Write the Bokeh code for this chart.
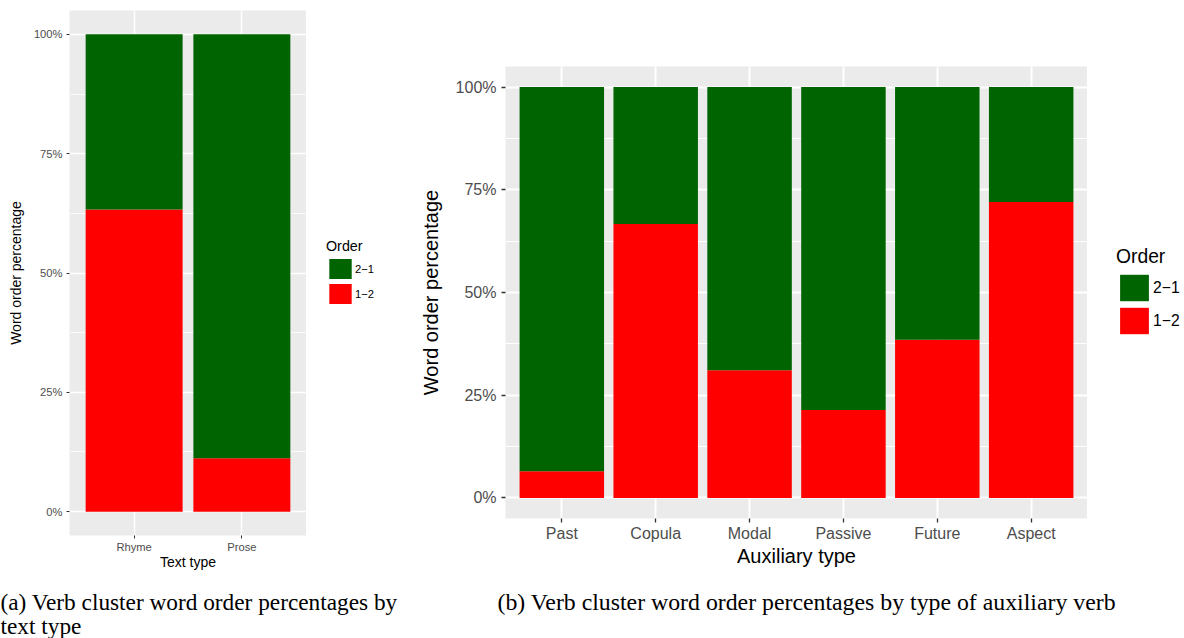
from bokeh.plotting import figure
from bokeh.models import (FactorRange, Range1d, FixedTicker, PrintfTickFormatter,
                          Legend, LegendItem, Label, ColumnDataSource)
from bokeh.layouts import row, column
from bokeh.embed import file_html
from bokeh.resources import INLINE

# ---------------- data ----------------
text_types = ["Rhyme", "Prose"]
text_order_12 = [63.3, 11.2]
text_order_21 = [36.7, 88.8]

aux_types = ["Past", "Copula", "Modal", "Passive", "Future", "Aspect"]
aux_order_12 = [6.5, 66.7, 31.1, 21.4, 38.5, 72.0]
aux_order_21 = [93.5, 33.3, 68.9, 78.6, 61.5, 28.0]

pct_ticks = [0, 25, 50, 75, 100]
pct_minor = [12.5, 37.5, 62.5, 87.5]
order_labels = ["2\u22121", "1\u22122"]
legend_title = "Order"
y_title = "Word order percentage"
x_title_a = "Text type"
x_title_b = "Auxiliary type"
caption_a = ["(a) Verb cluster word order percentages by", "text type"]
caption_b = "(b) Verb cluster word order percentages by type of auxiliary verb"

GREEN = "#006400"
RED = "#FF0000"
PANEL = "#EBEBEB"
SANS = "Liberation Sans"
SERIF = "Liberation Serif"
H = 580


def make_panel(cats, v12, v21, xtitle, s):
    src = ColumnDataSource(dict(cat=cats, v12=v12, v21=v21))
    p = figure(x_range=FactorRange(factors=cats, range_padding=0.1,
                                   range_padding_units="absolute"),
               y_range=Range1d(-5, 105),
               width=s["w"], height=H, sizing_mode="fixed",
               min_border_left=s["bl"], min_border_right=0,
               min_border_top=s["bt"], min_border_bottom=s["bb"],
               output_backend="svg", toolbar_location=None,
               background_fill_color=PANEL, border_fill_color="white",
               outline_line_color=None)
    p.vbar_stack(["v12", "v21"], x="cat", width=0.9, source=src,
                 fill_color=[RED, GREEN], line_color=None)

    p.yaxis.ticker = FixedTicker(ticks=pct_ticks, minor_ticks=pct_minor)
    p.yaxis.formatter = PrintfTickFormatter(format="%d%%")
    for ax in (p.xaxis[0], p.yaxis[0]):
        ax.axis_line_color = None
        ax.major_tick_line_color = "#333333"
        ax.major_tick_line_width = s["tw"]
        ax.major_tick_in = 0
        ax.major_tick_out = s["to"]
        ax.minor_tick_line_color = None
        ax.major_label_text_color = "#4D4D4D"
        ax.major_label_text_font = SANS
        ax.major_label_text_font_size = s["tick_fs"]
        ax.axis_label_text_font = SANS
        ax.axis_label_text_font_size = s["title_fs"]
        ax.axis_label_text_font_style = "normal"
        ax.axis_label_text_color = "black"
    p.xaxis.axis_label = xtitle
    p.yaxis.axis_label = y_title
    p.xaxis.major_label_standoff = s["xls"]
    p.yaxis.major_label_standoff = s["yls"]
    p.xaxis.axis_label_standoff = s["xas"]
    p.yaxis.axis_label_standoff = s["yas"]

    p.xgrid.grid_line_color = "white"
    p.xgrid.grid_line_width = s["gw"]
    p.ygrid.grid_line_color = "white"
    p.ygrid.grid_line_width = s["gw"]
    p.ygrid.minor_grid_line_color = "white"
    p.ygrid.minor_grid_line_width = s["mgw"]
    return p


def make_legend(cats, v12, v21, s):
    # separate strip holding the "Order" legend (zero-width bars carry the colours)
    src = ColumnDataSource(dict(cat=cats, v12=v12, v21=v21))
    q = figure(x_range=FactorRange(factors=cats), y_range=Range1d(0, 1),
               width=s["lw"], height=H, sizing_mode="fixed",
               x_axis_type=None, y_axis_type=None, min_border=0,
               output_backend="svg", toolbar_location=None,
               outline_line_color=None, background_fill_color="white")
    q.grid.visible = False
    bars = q.vbar_stack(["v12", "v21"], x="cat", width=0, source=src,
                        fill_color=[RED, GREEN], line_color=None)
    leg = Legend(items=[LegendItem(label=order_labels[0], renderers=[bars[1]]),
                        LegendItem(label=order_labels[1], renderers=[bars[0]])],
                 location=s["leg_loc"], title=legend_title,
                 glyph_width=s["key_w"], glyph_height=s["key_pitch"],
                 label_height=8, spacing=0, padding=0, margin=0,
                 label_standoff=s["lab_so"], title_standoff=s["title_so"],
                 border_line_color=None, background_fill_alpha=0,
                 label_text_font=SANS, label_text_font_size=s["leg_fs"],
                 label_text_color="black",
                 title_text_font=SANS, title_text_font_size=s["leg_title_fs"],
                 title_text_font_style="normal", title_text_color="black")
    q.add_layout(leg)
    return q


sa = dict(w=306, bl=69, bt=10, bb=45, tw=1, to=3,
          tick_fs="11.2px", title_fs="14px", xls=2, yls=3, xas=-2, yas=7,
          gw=1.5, mgw=0.8,
          lw=94, key_w=28, key_pitch=25, leg_loc=(20, 274), lab_so=1, title_so=2,
          leg_fs="11.2px", leg_title_fs="14.3px")
sb = dict(w=687, bl=105, bt=66, bb=62, tw=1.3, to=4,
          tick_fs="16px", title_fs="20px", xls=2, yls=5, xas=0, yas=11,
          gw=2, mgw=1,
          lw=97, key_w=36, key_pitch=33, leg_loc=(29, 243), lab_so=1, title_so=3,
          leg_fs="15.7px", leg_title_fs="19.3px")

pa = make_panel(text_types, text_order_12, text_order_21, x_title_a, sa)
la = make_legend(text_types, text_order_12, text_order_21, sa)
pb = make_panel(aux_types, aux_order_12, aux_order_21, x_title_b, sb)
lb = make_legend(aux_types, aux_order_12, aux_order_21, sb)

# captions
cap = figure(width=1184, height=58, x_range=Range1d(0, 1184), y_range=Range1d(0, 58),
             x_axis_type=None, y_axis_type=None, min_border=0, sizing_mode="fixed",
             output_backend="svg", toolbar_location=None,
             outline_line_color=None, background_fill_color="white")
cap.grid.visible = False
for txt, y in zip(caption_a, [37, 13]):
    cap.add_layout(Label(x=0, y=y, text=txt, text_font=SERIF,
                         text_font_size="23.3px", text_color="black",
                         text_baseline="alphabetic", text_align="left"))
cap.add_layout(Label(x=497, y=37, text=caption_b, text_font=SERIF,
                     text_font_size="23.8px", text_color="black",
                     text_baseline="alphabetic", text_align="left"))

top = row(column(pa, width=306, height=H, sizing_mode="fixed"),
          column(la, width=94, height=H, sizing_mode="fixed"),
          column(pb, width=687, height=H, sizing_mode="fixed"),
          column(lb, width=97, height=H, sizing_mode="fixed"),
          width=1184, height=H, sizing_mode="fixed")
layout = column(top, cap, width=1184, height=638, sizing_mode="fixed")
open("out.html", "w").write(file_html(layout, INLINE))
